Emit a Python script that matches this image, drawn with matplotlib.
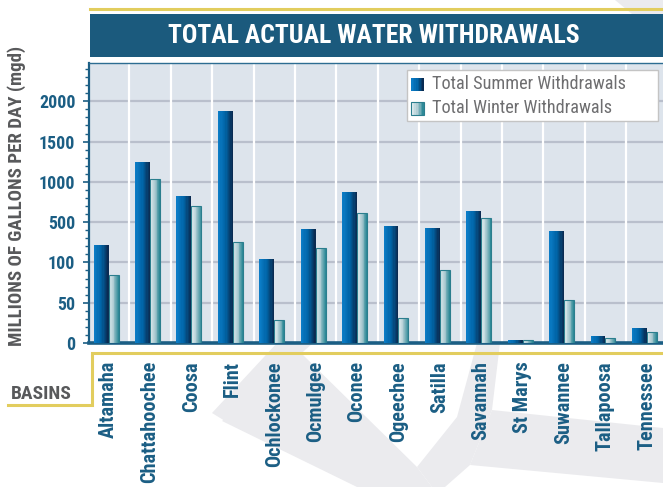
import numpy as np
import matplotlib
matplotlib.use("Agg")
import matplotlib.pyplot as plt
from matplotlib import font_manager
from matplotlib.colors import LinearSegmentedColormap
from matplotlib.patches import Rectangle, Polygon
from matplotlib.lines import Line2D

basins = ["Altamaha", "Chattahoochee", "Coosa", "Flint", "Ochlockonee", "Ocmulgee",
          "Oconee", "Ogeechee", "Satilla", "Savannah", "St Marys", "Suwannee",
          "Tallapoosa", "Tennessee"]
summer = [277, 1250, 830, 1885, 137, 436, 880, 465, 446, 644, 4, 416, 9, 18]
winter = [84, 1036, 705, 300, 28, 244, 615, 31, 91, 556, 3.5, 53, 6.6, 14]
yticks = [0, 50, 100, 500, 1000, 1500, 2000]
series_names = ["Total Summer Withdrawals", "Total Winter Withdrawals"]
title = "TOTAL ACTUAL WATER WITHDRAWALS"
ylabel = "MILLIONS OF GALLONS PER DAY (mgd)"
xgroup = "BASINS"

names = {f.name for f in font_manager.fontManager.ttflist}
COND = "DejaVu Sans"
for cand in ["Roboto Condensed", "Archivo Narrow", "PT Sans Narrow", "Barlow Semi Condensed",
             "Barlow Condensed", "Open Sans Condensed", "Saira SemiCondensed",
             "Sofia Sans Condensed", "Antonio"]:
    if cand in names:
        COND = cand
        break
plt.rcParams['font.family'] = [COND, 'DejaVu Sans']

W, H = 663, 487
fig = plt.figure(figsize=(W / 100, H / 100), dpi=100)
fig.patch.set_facecolor("white")
renderer = fig.canvas.get_renderer()


def px_x(x):
    return x / W


def px_y(y):
    return 1 - y / H


def fit_size(s, target, weight="bold", rotation=0, base=20.0):
    t = fig.text(0, 0, s, fontsize=base, fontweight=weight, rotation=rotation)
    bb = t.get_window_extent(renderer)
    t.remove()
    cur = bb.width if rotation == 0 else bb.height
    return base * target / cur


# faint watermark behind everything
GRAY = "#ebebee"
for poly in [
    [(212, 413), (277, 343), (313, 343), (225, 421)],
    [(222, 421), (300, 352), (417, 467), (432, 487), (357, 487)],
    [(417, 467), (457, 417), (477, 343), (500, 343), (492, 410), (470, 465), (445, 487), (432, 487)],
    [(492, 410), (663, 428), (663, 483), (470, 465)],
    [(615, 0), (663, 0), (663, 14), (632, 14)],
]:
    fig.patches.append(Polygon([[px_x(a), px_y(b)] for a, b in poly], closed=True,
                               transform=fig.transFigure, facecolor=GRAY, edgecolor="none", zorder=-5))

# banner
YEL = "#e2cd5e"
fig.add_artist(Line2D([px_x(90), px_x(663)], [px_y(8.5), px_y(8.5)], color=YEL, lw=2.2,
                      transform=fig.transFigure))
fig.patches.append(Rectangle((px_x(90), px_y(57)), (663 - 90) / W, 43 / H, transform=fig.transFigure,
                             facecolor="#1b5a7d", edgecolor="none", zorder=1))
fig.text(px_x(373.5), px_y(36), title, color="white", fontsize=fit_size(title, 413),
         fontweight="bold", ha="center", va="center", zorder=2)

# axes
left, right, top, bottom = 89.3, 663, 63, 343
ax = fig.add_axes([px_x(left), px_y(bottom), (right - left) / W, (bottom - top) / H])
ax.set_zorder(1)
ax.set_facecolor("#dde4ec")


def fwd(v):
    v = np.asarray(v, dtype=float)
    return np.where(v <= 100, v / 50.0, np.where(v <= 500, 2 + (v - 100) / 400.0, 3 + (v - 500) / 500.0))


def inv(i):
    i = np.asarray(i, dtype=float)
    return np.where(i <= 2, i * 50.0, np.where(i <= 3, 100 + (i - 2) * 400.0, 500 + (i - 3) * 500.0))


ax.set_yscale("function", functions=(fwd, inv))
ax.set_ylim(0, 2475)
ax.set_xlim(-0.466, 13.39)

cm_s = LinearSegmentedColormap.from_list("s", ["#0b7cc6", "#0064a6", "#0a2b52"])
cm_w = LinearSegmentedColormap.from_list("w", ["#e4eef1", "#a9c9d0", "#2f8a98"])

x = np.arange(len(basins))
N = 12
ws, ww = 0.36, 0.24
for k in range(N):
    ax.bar(x - ws + k * ws / N, summer, width=ws / N * 1.03, align="edge",
           color=cm_s(k / (N - 1)), edgecolor="none", zorder=3)
    ax.bar(x + k * ww / N, winter, width=ww / N * 1.03, align="edge",
           color=cm_w(k / (N - 1)), edgecolor="none", zorder=3)
ax.bar(x, winter, width=ww, align="edge", facecolor="none", edgecolor="#2b7e8e", lw=0.8, zorder=4)

for v in yticks[1:]:
    ax.axhline(v, color="#b9bfcc", lw=1.6, zorder=1)
for k in range(len(basins) - 1):
    ax.axvline(k + 0.5, color="white", lw=1.6, zorder=1)

BLUE = "#1b5e84"
ax.set_yticks(yticks)
ax.set_yticklabels([str(v) for v in yticks], fontweight="bold")
ax.set_yticks(inv(np.arange(0, 7.0, 0.2)), minor=True)
ax.tick_params(axis="y", which="major", direction="out", length=4.5, width=1.2, color=BLUE,
               labelsize=fit_size("2000", 36), labelcolor=BLUE, pad=5.5)
ax.tick_params(axis="y", which="minor", direction="out", length=3, width=1.0, color=BLUE)
ax.set_xticks(x)
ax.set_xticklabels(basins, rotation=90, fontsize=fit_size("Altamaha", 77, rotation=90),
                   fontweight="bold", color=BLUE, va="top", ha="center")
ax.tick_params(axis="x", length=0, pad=13)

ax.spines["right"].set_visible(False)
ax.spines["left"].set_color(BLUE)
ax.spines["left"].set_linewidth(1.6)
ax.spines["bottom"].set_color(BLUE)
ax.spines["bottom"].set_linewidth(2.6)
ax.spines["top"].set_color("#2d6d92")
ax.spines["top"].set_linewidth(1.0)

TXTG = "#58595b"
fig.text(px_x(17), px_y(196), ylabel, rotation=90, ha="center", va="center",
         fontsize=fit_size(ylabel, 300, rotation=90), fontweight="bold", color=TXTG)

fig.add_artist(Line2D([px_x(663), px_x(91.5), px_x(91.5), px_x(8)],
                      [px_y(352.5), px_y(352.5), px_y(405), px_y(405)],
                      color=YEL, lw=2.2, transform=fig.transFigure, solid_joinstyle="miter"))
fig.text(px_x(11), px_y(394), xgroup, ha="left", va="center", fontsize=fit_size(xgroup, 61),
         fontweight="bold", color=TXTG)

# legend box drawn in figure pixels
lx0, ly0, lx1, ly1 = 407, 70, 658, 121
fig.patches.append(Rectangle((px_x(lx0), px_y(ly1)), (lx1 - lx0) / W, (ly1 - ly0) / H,
                             transform=fig.transFigure, facecolor="white", edgecolor="#c4c4c4",
                             lw=1.0, zorder=5))
leg_fs = fit_size(series_names[0], 194, weight="normal")
for row, (name, cm, edge) in enumerate([(series_names[0], cm_s, None),
                                        (series_names[1], cm_w, "#2b7e8e")]):
    cy = 84 + row * 24.3
    n = 8
    side = 13
    for k in range(n):
        fig.patches.append(Rectangle((px_x(411 + k * side / n), px_y(cy + side / 2)),
                                     side / n / W * 1.05, side / H, transform=fig.transFigure,
                                     facecolor=cm(k / (n - 1)), edgecolor="none", zorder=6))
    if edge:
        fig.patches.append(Rectangle((px_x(411), px_y(cy + side / 2)), side / W, side / H,
                                     transform=fig.transFigure, facecolor="none",
                                     edgecolor=edge, lw=0.8, zorder=7))
    fig.text(px_x(432.5), px_y(cy), name, ha="left", va="center", fontsize=leg_fs,
             color="#6e6e70", zorder=8)

fig.savefig("out.png", dpi=100)
